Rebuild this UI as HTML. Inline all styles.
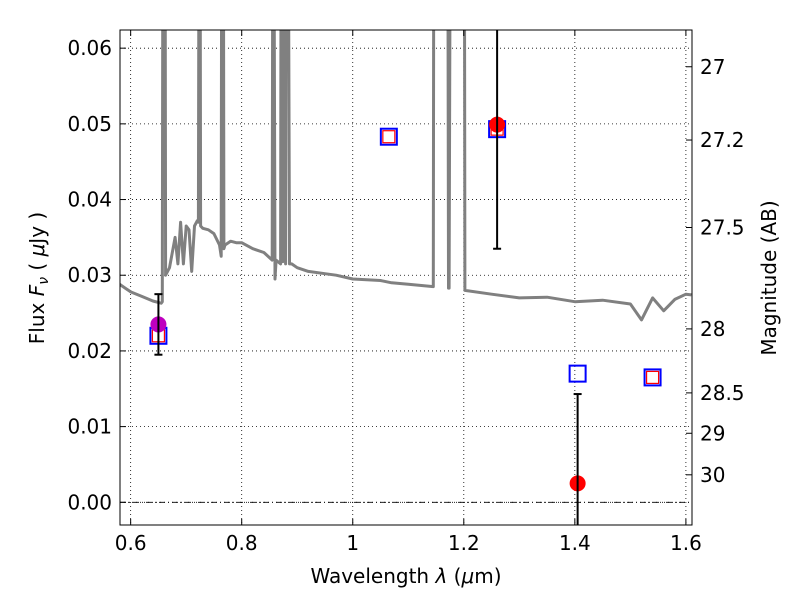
<!DOCTYPE html>
<html><head><meta charset="utf-8"><style>
html,body{margin:0;padding:0;background:#fff}
svg text{font-family:"DejaVu Sans","Liberation Sans",sans-serif;fill:#000}
</style></head><body>
<svg id="chart" width="800" height="600" xmlns="http://www.w3.org/2000/svg">
<defs><clipPath id="pc"><rect x="120" y="30" width="572" height="495"/></clipPath></defs>
<rect width="800" height="600" fill="#fff"/>
<g id="grid" clip-path="url(#pc)"></g>
<g id="marks" clip-path="url(#pc)"></g>
<rect x="120" y="30" width="572" height="495" fill="none" stroke="#000" stroke-width="1"/>
<g id="axes"></g>
<text x="406" y="583" font-size="20" text-anchor="middle">Wavelength  <tspan font-style="italic">λ</tspan> (<tspan font-style="italic">μ</tspan>m)</text>
<text transform="translate(44,278) rotate(-90)" font-size="20" text-anchor="middle">Flux  <tspan font-style="italic">F</tspan><tspan font-style="italic" font-size="14" dy="4">ν</tspan><tspan dy="-4">  ( </tspan><tspan font-style="italic">μ</tspan>Jy )</text>
<text transform="translate(776,278) rotate(-90)" font-size="20" text-anchor="middle">Magnitude (AB)</text>
</svg>
<script>
const specWave=[0.58,0.60,0.62,0.64,0.655,0.657,0.658,0.662,0.663,0.67,0.68,0.685,0.69,0.695,0.70,0.705,0.71,0.715,0.72,0.722,0.723,0.725,0.726,0.73,0.74,0.75,0.76,0.763,0.764,0.767,0.768,0.77,0.78,0.79,0.80,0.82,0.84,0.855,0.856,0.858,0.86,0.862,0.87,0.871,0.873,0.874,0.876,0.877,0.879,0.88,0.882,0.884,0.886,0.89,0.90,0.92,0.95,0.97,1.0,1.05,1.07,1.1,1.145,1.146,1.149,1.150,1.171,1.1725,1.1735,1.176,1.197,1.198,1.201,1.202,1.25,1.3,1.35,1.4,1.45,1.5,1.52,1.54,1.56,1.58,1.60,1.61];
const specFlux=[0.0288,0.0278,0.0272,0.0266,0.0263,0.0265,0.08,0.08,0.030,0.031,0.035,0.0315,0.037,0.0315,0.0365,0.036,0.0305,0.0365,0.0372,0.037,0.08,0.08,0.0365,0.0362,0.036,0.0355,0.034,0.0325,0.08,0.08,0.0335,0.034,0.0345,0.0343,0.0343,0.0335,0.033,0.032,0.08,0.08,0.0295,0.032,0.0315,0.08,0.08,0.0318,0.08,0.08,0.0315,0.08,0.08,0.08,0.0315,0.0315,0.031,0.0305,0.0302,0.030,0.0295,0.0293,0.029,0.0288,0.0285,0.08,0.08,0.09,0.09,0.0283,0.0283,0.09,0.09,0.08,0.08,0.028,0.0275,0.0270,0.0271,0.0265,0.0267,0.0262,0.0241,0.0270,0.0253,0.0268,0.0275,0.0274];
const modelWave=[0.65,1.065,1.26,1.405,1.54];
const modelFlux=[0.0220,0.0483,0.0493,0.0170,0.0165];
const modelInner=[true,true,true,false,true];
const obsWave=[0.65,1.26,1.405];
const obsFlux=[0.0235,0.0499,0.0025];
const obsErrLo=[0.0195,0.0335,-0.01];
const obsErrHi=[0.0275,0.08,0.0143];
const obsColor=["#bf00bf","#ff0000","#ff0000"];
const xTicks=[0.6,0.8,1.0,1.2,1.4,1.6];
const xTickLabels=["0.6","0.8","1","1.2","1.4","1.6"];
const yTicks=[0,0.01,0.02,0.03,0.04,0.05,0.06];
const yTickLabels=["0.00","0.01","0.02","0.03","0.04","0.05","0.06"];
const magTicks=[27,27.2,27.5,28,28.5,29,30];
const magLabels=["27","27.2","27.5","28","28.5","29","30"];

const X0=120,X1=692,Y0=30,Y1=525,xmin=0.5808,xmax=1.611,ymin=-0.0030,ymax=0.0624;
const sx=v=>X0+(v-xmin)/(xmax-xmin)*(X1-X0);
const sy=v=>Y1-(v-ymin)/(ymax-ymin)*(Y1-Y0);
const magToFlux=m=>Math.pow(10,-(m-23.9)/2.5);
const NS="http://www.w3.org/2000/svg";
function mk(tag,attrs,parent){const e=document.createElementNS(NS,tag);for(const k in attrs)e.setAttribute(k,attrs[k]);parent.appendChild(e);return e;}
const grid=document.getElementById('grid'),marks=document.getElementById('marks'),axes=document.getElementById('axes');

xTicks.forEach((t,i)=>{
  const x=sx(t);
  const g=mk('line',{x1:x,x2:x,y1:Y0,y2:Y1,stroke:'#000','stroke-width':0.8,'stroke-dasharray':'1,3'},grid);
  
  
  mk('line',{x1:x,x2:x,y1:Y1,y2:Y1-6,stroke:'#000'},axes);
  mk('line',{x1:x,x2:x,y1:Y0,y2:Y0+6,stroke:'#000'},axes);
  const l=mk('text',{x:x,y:Y1+25,'font-size':20,'text-anchor':'middle'},axes);
  l.textContent=xTickLabels[i];
  
  
});
yTicks.forEach((t,i)=>{
  const y=sy(t);
  const g=mk('line',{x1:X0,x2:X1,y1:y,y2:y,stroke:'#000','stroke-width':0.8,'stroke-dasharray':'1,3'},grid);
  
  
  mk('line',{x1:X0,x2:X0+6,y1:y,y2:y,stroke:'#000'},axes);
  const l=mk('text',{x:X0-8,y:y+7,'font-size':20,'text-anchor':'end'},axes);
  l.textContent=yTickLabels[i];
  
  
});
magTicks.forEach((m,i)=>{
  const y=sy(magToFlux(m));
  mk('line',{x1:X1,x2:X1-6,y1:y,y2:y,stroke:'#000'},axes);
  const l=mk('text',{x:X1+8,y:y+7,'font-size':20,'text-anchor':'start'},axes);
  l.textContent=magLabels[i];
  
  
});
const zl=mk('line',{x1:X0,x2:X1,y1:sy(0),y2:sy(0),stroke:'#000','stroke-width':0.8,'stroke-dasharray':'6,3,1,3'},marks);



let d='';specWave.forEach((w,i)=>{d+=(i?'L':'M')+sx(w).toFixed(1)+','+sy(specFlux[i]).toFixed(1);});
const sp=mk('path',{d:d,fill:'none',stroke:'#808080','stroke-width':3,'stroke-linejoin':'round'},marks);



modelWave.forEach((w,i)=>{
  const x=sx(w),y=sy(modelFlux[i]);
  const s=mk('rect',{x:x-8,y:y-8,width:16,height:16,fill:'none',stroke:'#0000ff','stroke-width':2},marks);
  
  
  if(modelInner[i]){
    const r=mk('rect',{x:x-6,y:y-6,width:12,height:12,fill:'none',stroke:'#ff0000','stroke-width':1.2},marks);
    
    
  }
});
obsWave.forEach((w,i)=>{
  const x=sx(w),y=sy(obsFlux[i]);
  const c=mk('circle',{cx:x,cy:y,r:8,fill:obsColor[i]},marks);
  
  
  const yl=sy(obsErrLo[i]),yh=sy(obsErrHi[i]);
  const e=mk('line',{x1:x,x2:x,y1:yl,y2:yh,stroke:'#000','stroke-width':2},marks);
  
  
  mk('line',{x1:x-4,x2:x+4,y1:yl,y2:yl,stroke:'#000','stroke-width':2},marks);
  mk('line',{x1:x-4,x2:x+4,y1:yh,y2:yh,stroke:'#000','stroke-width':2},marks);
});
</script>
</body></html>
